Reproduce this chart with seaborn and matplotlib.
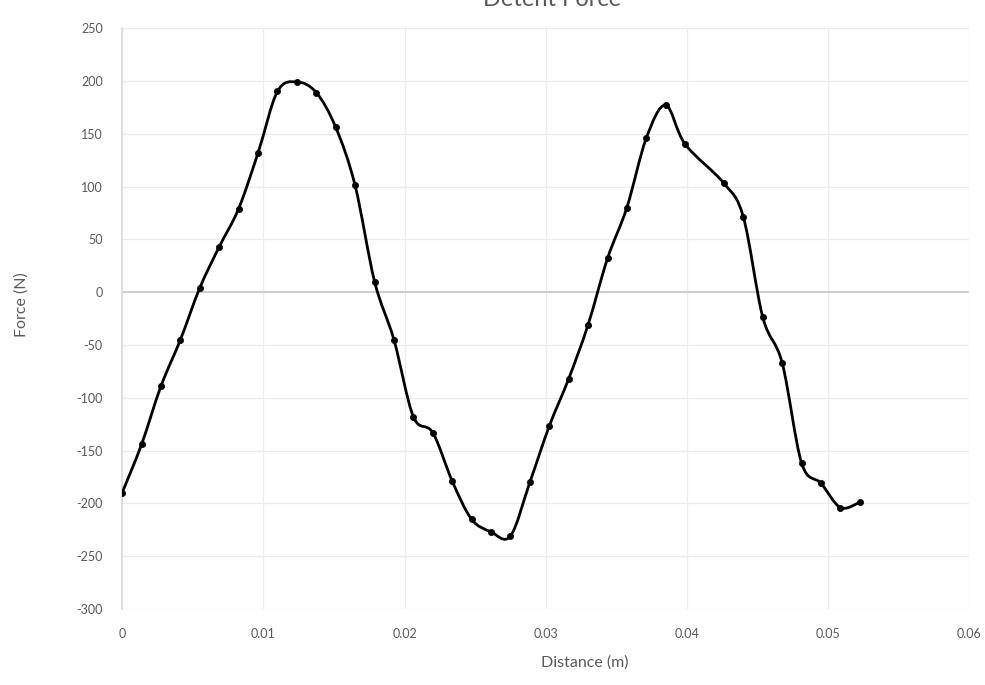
import numpy as np
import pandas as pd
import matplotlib
matplotlib.use("Agg")
import matplotlib.pyplot as plt
from matplotlib.path import Path
from matplotlib.patches import PathPatch
import seaborn as sns

# ---------------------------
# Data
# ---------------------------
distance = [0, 0.00138, 0.00275, 0.00413, 0.0055, 0.00688, 0.00825, 0.00963,
            0.011, 0.01238, 0.01375, 0.01513, 0.0165, 0.01788, 0.01925, 0.02063,
            0.022, 0.02338, 0.02475, 0.02613, 0.0275, 0.02888, 0.03025, 0.03163,
            0.033, 0.03438, 0.03575, 0.03713, 0.0385, 0.03988, 0.04263, 0.044,
            0.04538, 0.04675, 0.04813, 0.0495, 0.05088, 0.05225]
force = [-190, -144, -89, -45, 4, 43, 79, 132,
         190, 199, 189, 156, 101, 10, -45, -118,
         -133, -179, -215, -227, -231, -180, -127, -82,
         -31, 32, 80, 146, 177, 140, 103, 71,
         -24, -67, -162, -181, -204, -199]

x_ticks = [0, 0.01, 0.02, 0.03, 0.04, 0.05, 0.06]
x_tick_labels = ["0", "0.01", "0.02", "0.03", "0.04", "0.05", "0.06"]
y_ticks = [-300, -250, -200, -150, -100, -50, 0, 50, 100, 150, 200, 250]
y_tick_labels = [str(v) for v in y_ticks]

df = pd.DataFrame({"Distance": distance, "Force": force})

sns.set_style("white")
plt.rcParams["font.family"] = ["Lato", "DejaVu Sans"]

grey = "#595959"

fig = plt.figure(figsize=(9.85, 6.85), dpi=100)
ax = fig.add_axes([0.124, 0.111, 0.86, 0.848])

# smoothed line like Excel (Catmull-Rom turned into cubic Bezier segments)
pts = df[["Distance", "Force"]].to_numpy(dtype=float)
n = len(pts)
verts = [pts[0]]
codes = [Path.MOVETO]
for i in range(n - 1):
    p0 = pts[i - 1] if i > 0 else pts[i]
    p1 = pts[i]
    p2 = pts[i + 1]
    p3 = pts[i + 2] if i + 2 < n else pts[i + 1]
    verts += [p1 + (p2 - p0) / 6, p2 - (p3 - p1) / 6, p2]
    codes += [Path.CURVE4] * 3
ax.add_patch(PathPatch(Path(verts, codes), fill=False, edgecolor="black",
                       lw=2, zorder=3))

sns.scatterplot(data=df, x="Distance", y="Force", color="black", s=20,
                edgecolor="black", linewidth=0.5, ax=ax, zorder=4)

ax.set_xlim(0, 0.06)
ax.set_ylim(-300, 250)
ax.set_xticks(x_ticks)
ax.set_xticklabels(x_tick_labels)
ax.set_yticks(y_ticks)
ax.set_yticklabels(y_tick_labels)
ax.tick_params(axis="both", length=0, labelsize=9, labelcolor=grey)
ax.tick_params(axis="x", pad=14)
ax.tick_params(axis="y", pad=14)

ax.grid(True, color="#ececec", lw=0.9)
ax.set_axisbelow(True)
ax.axhline(0, color="#c8c8c8", lw=1.2, zorder=2)
for side in ["top", "right", "bottom"]:
    ax.spines[side].set_visible(False)
ax.spines["left"].set_color("#d9d9d9")
ax.spines["left"].set_linewidth(1.2)

ax.set_xlabel("")
ax.set_ylabel("")
fig.text(585 / 985, 1 - 663 / 685, "Distance (m)", ha="center", va="center",
         fontsize=11.5, color=grey)
fig.text(22 / 985, 1 - 305 / 685, "Force (N)", ha="center", va="center",
         rotation=90, fontsize=11.5, color=grey)
# title sits partly above the top edge, as in the reference
fig.text(552 / 985, 1 - 6 / 685, "Detent Force", ha="center", va="baseline",
         fontsize=17, color=grey)

plt.savefig("out.png", dpi=100)
plt.close()
